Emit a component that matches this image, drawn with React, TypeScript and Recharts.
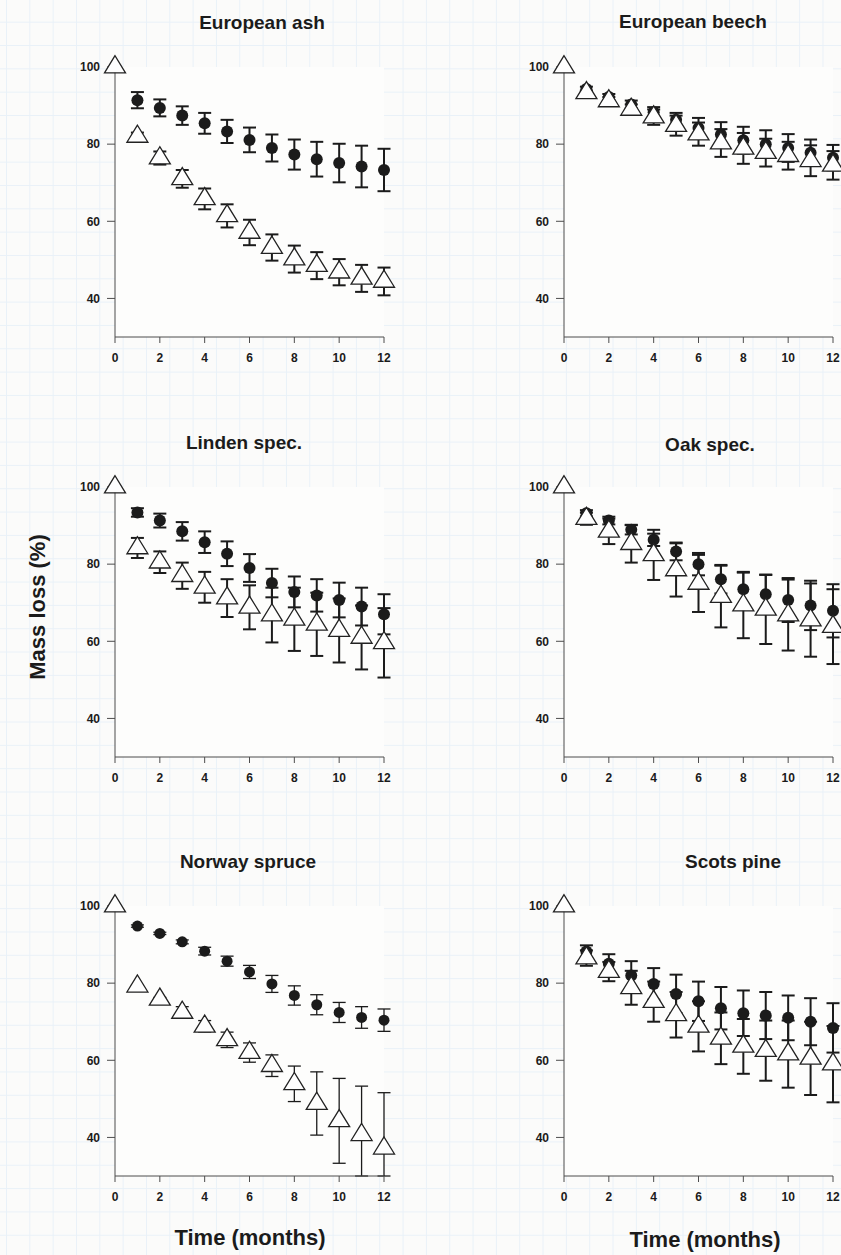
import React from "react";
import {
  CartesianGrid,
  ErrorBar,
  Scatter,
  ScatterChart,
  XAxis,
  YAxis,
} from "recharts";

const darkMonths = [1, 2, 3, 4, 5, 6, 7, 8, 9, 10, 11, 12];
const openMonths = [0, 1, 2, 3, 4, 5, 6, 7, 8, 9, 10, 11, 12];
const xTicks = [0, 2, 4, 6, 8, 10, 12];
const yTicks = [40, 60, 80, 100];

// European ash
const ashDark = [91.4, 89.4, 87.4, 85.4, 83.3, 81.1, 79.0, 77.3, 76.1, 75.1, 74.2, 73.3];
const ashDarkErr = [2.1, 2.2, 2.4, 2.7, 3.0, 3.2, 3.5, 3.9, 4.5, 5.0, 5.4, 5.5];
const ashOpen = [100, 82.0, 76.4, 71.0, 65.8, 61.4, 57.1, 53.2, 50.2, 48.5, 46.8, 45.2, 44.4];
const ashOpenErr = [0, 1.0, 1.7, 2.3, 2.7, 3.0, 3.3, 3.4, 3.5, 3.5, 3.4, 3.5, 3.6];

// European beech
const beechDark = [94.3, 92.2, 90.3, 88.3, 86.3, 84.2, 82.5, 81.0, 80.0, 79.0, 77.8, 76.5];
const beechDarkErr = [0.6, 0.8, 1.0, 1.3, 1.8, 2.6, 3.2, 3.5, 3.6, 3.6, 3.4, 3.3];
const beechOpen = [100, 93.3, 91.2, 89.0, 87.0, 84.8, 82.6, 80.3, 78.9, 77.8, 77.0, 75.7, 74.5];
const beechOpenErr = [0, 0.6, 1.0, 1.3, 2.0, 2.6, 3.0, 3.6, 4.0, 3.6, 3.6, 4.0, 3.7];

// Linden spec.
const lindenDark = [93.4, 91.3, 88.5, 85.7, 82.7, 79.0, 75.1, 72.8, 71.9, 70.7, 69.0, 67.0];
const lindenDarkErr = [1.1, 1.8, 2.4, 2.8, 3.2, 3.6, 3.7, 4.0, 4.2, 4.5, 4.9, 5.2];
const lindenOpen = [100, 84.2, 80.5, 77.0, 74.0, 71.2, 68.8, 66.8, 65.7, 64.4, 62.8, 61.0, 59.6];
const lindenOpenErr = [0, 2.6, 2.8, 3.4, 4.0, 4.9, 5.7, 7.1, 8.2, 8.2, 8.3, 8.3, 9.0];

// Oak spec.
const oakDark = [93.2, 91.3, 88.9, 86.3, 83.3, 80.0, 76.1, 73.5, 72.2, 70.7, 69.3, 67.9];
const oakDarkErr = [0.8, 1.0, 1.2, 1.6, 2.3, 2.9, 3.7, 4.3, 5.0, 5.7, 6.4, 6.9];
const oakOpen = [100, 91.8, 88.5, 85.3, 82.4, 78.5, 75.0, 71.6, 69.4, 68.3, 66.8, 65.5, 63.8];
const oakOpenErr = [0, 1.6, 3.3, 4.9, 6.5, 6.9, 7.4, 8.0, 8.6, 9.0, 9.2, 9.5, 9.7];

// Norway spruce (last two lower whiskers stop at the axis)
const spruceDark = [94.8, 92.9, 90.7, 88.3, 85.7, 82.9, 79.8, 76.8, 74.4, 72.4, 71.1, 70.4];
const spruceDarkErr = [0.3, 0.3, 0.5, 1.0, 1.3, 1.7, 2.2, 2.5, 2.6, 2.6, 2.8, 2.9];
const spruceOpen = [100, 79.2, 75.8, 72.4, 68.8, 65.3, 62.0, 58.6, 53.9, 48.8, 44.3, 40.7, 37.2];
const spruceOpenErr = [0, 0.3, 0.5, 1.5, 1.5, 2.0, 2.5, 2.8, 4.6, 8.2, 11.0, [10.7, 12.6], [7.2, 14.4]];

// Scots pine
const pineDark = [88.2, 85.0, 82.0, 79.8, 77.2, 75.3, 73.5, 72.2, 71.6, 71.0, 70.0, 68.4];
const pineDarkErr = [1.6, 2.5, 3.7, 4.1, 5.0, 5.1, 5.5, 5.9, 6.1, 5.8, 6.1, 6.4];
const pineOpen = [100, 86.5, 83.0, 78.8, 75.2, 71.8, 68.8, 65.7, 63.6, 62.5, 61.6, 60.5, 59.0];
const pineOpenErr = [0, 2.0, 2.5, 4.4, 5.2, 5.9, 6.5, 6.7, 7.1, 7.8, 8.7, 9.5, 9.9];

const font = '"Liberation Sans", Arial, sans-serif';
const ink = "#1b1b1b";
const axisGrey = "#4d4d4d";

type Err = number | number[];

function toRows(months: number[], values: number[], errs: Err[]) {
  return months.map((m, i) => ({ month: m, value: values[i], err: errs[i] }));
}

function Dot(props: any) {
  const { cx, cy, r = 6 } = props;
  return <circle cx={cx} cy={cy} r={r} fill={ink} />;
}

function Tri(props: any) {
  const { cx, cy } = props;
  const pts = `${cx},${cy - 11.3} ${cx - 10.5},${cy + 5.8} ${cx + 10.5},${cy + 5.8}`;
  return <polygon points={pts} fill="#fefefe" stroke="#222" strokeWidth={1.3} />;
}

interface PanelProps {
  title: string;
  titleX: number;
  titleY: number;
  top: number;
  right?: boolean;
  dark: number[];
  darkErr: Err[];
  open: number[];
  openErr: Err[];
  barWidth?: number;
  dotR?: number;
}

function Panel({ title, titleX, titleY, top, right, dark, darkErr, open, openErr, barWidth = 2, dotR = 6 }: PanelProps) {
  const yAxisWidth = right ? 144 : 115;
  const width = right ? 421 : 420;
  const marginRight = width - yAxisWidth - 269;
  const tick = { fill: ink, fontSize: 12, fontWeight: 700, fontFamily: font };
  return (
    <>
      <div
        style={{
          position: "absolute",
          left: titleX,
          top: titleY,
          transform: "translate(-50%, -50%)",
          whiteSpace: "nowrap",
          fontFamily: font,
          fontWeight: 700,
          fontSize: 19,
          color: ink,
        }}
      >
        {title}
      </div>
      <div style={{ position: "absolute", left: right ? 420 : 0, top }}>
        <ScatterChart
          width={width}
          height={330}
          margin={{ top: 20, right: marginRight, bottom: 10, left: 0 }}
        >
          <CartesianGrid horizontal={false} vertical={false} fill="#fdfdfc" />
          <XAxis
            type="number"
            dataKey="month"
            domain={[0, 12]}
            ticks={xTicks}
            interval={0}
            height={30}
            tickSize={6}
            tickMargin={10}
            stroke={axisGrey}
            tick={tick}
          />
          <YAxis
            type="number"
            dataKey="value"
            domain={[30, 100]}
            ticks={yTicks}
            interval={0}
            width={yAxisWidth}
            tickSize={8}
            tickMargin={7}
            stroke={axisGrey}
            tick={tick}
          />
          <Scatter
            data={toRows(darkMonths, dark, darkErr)}
            shape={<Dot r={dotR} />}
            isAnimationActive={false}
          >
            <ErrorBar
              dataKey="err"
              direction="y"
              width={6.5}
              stroke={ink}
              strokeWidth={barWidth}
              isAnimationActive={false}
            />
          </Scatter>
          <Scatter
            data={toRows(openMonths, open, openErr)}
            shape={<Tri />}
            isAnimationActive={false}
          >
            <ErrorBar
              dataKey="err"
              direction="y"
              width={6.5}
              stroke={ink}
              strokeWidth={barWidth}
              isAnimationActive={false}
            />
          </Scatter>
        </ScatterChart>
      </div>
    </>
  );
}

const bigLabel: React.CSSProperties = {
  position: "absolute",
  whiteSpace: "nowrap",
  fontFamily: font,
  fontWeight: 700,
  fontSize: 22,
  color: ink,
};

export default function App() {
  return (
    <div
      style={{
        position: "absolute",
        left: 0,
        top: 0,
        width: 841,
        height: 1255,
        overflow: "hidden",
        backgroundColor: "#fbfbfa",
        backgroundImage:
          "linear-gradient(to right, #e9f1f8 1px, transparent 1px), linear-gradient(to bottom, #e9f1f8 1px, transparent 1px)",
        backgroundSize: "23.33px 23.33px",
        backgroundPosition: "6px 21.7px",
      }}
    >
      <Panel title="European ash" titleX={262} titleY={23} top={47} dark={ashDark} darkErr={ashDarkErr} open={ashOpen} openErr={ashOpenErr} />
      <Panel title="European beech" titleX={693} titleY={22} top={47} right dark={beechDark} darkErr={beechDarkErr} open={beechOpen} openErr={beechOpenErr} />
      <Panel title="Linden spec." titleX={244} titleY={443} top={467} dark={lindenDark} darkErr={lindenDarkErr} open={lindenOpen} openErr={lindenOpenErr} />
      <Panel title="Oak spec." titleX={710} titleY={445} top={467} right dark={oakDark} darkErr={oakDarkErr} open={oakOpen} openErr={oakOpenErr} />
      <Panel title="Norway spruce" titleX={248} titleY={862} top={886} dark={spruceDark} darkErr={spruceDarkErr} open={spruceOpen} openErr={spruceOpenErr} barWidth={1.3} dotR={5.5} />
      <Panel title="Scots pine" titleX={733} titleY={862} top={886} right dark={pineDark} darkErr={pineDarkErr} open={pineOpen} openErr={pineOpenErr} />
      <div style={{ ...bigLabel, left: 38, top: 607, transform: "translate(-50%, -50%) rotate(-90deg)" }}>
        Mass loss (%)
      </div>
      <div style={{ ...bigLabel, left: 250, top: 1238, transform: "translate(-50%, -50%)" }}>
        Time (months)
      </div>
      <div style={{ ...bigLabel, left: 705, top: 1240, transform: "translate(-50%, -50%)" }}>
        Time (months)
      </div>
    </div>
  );
}
